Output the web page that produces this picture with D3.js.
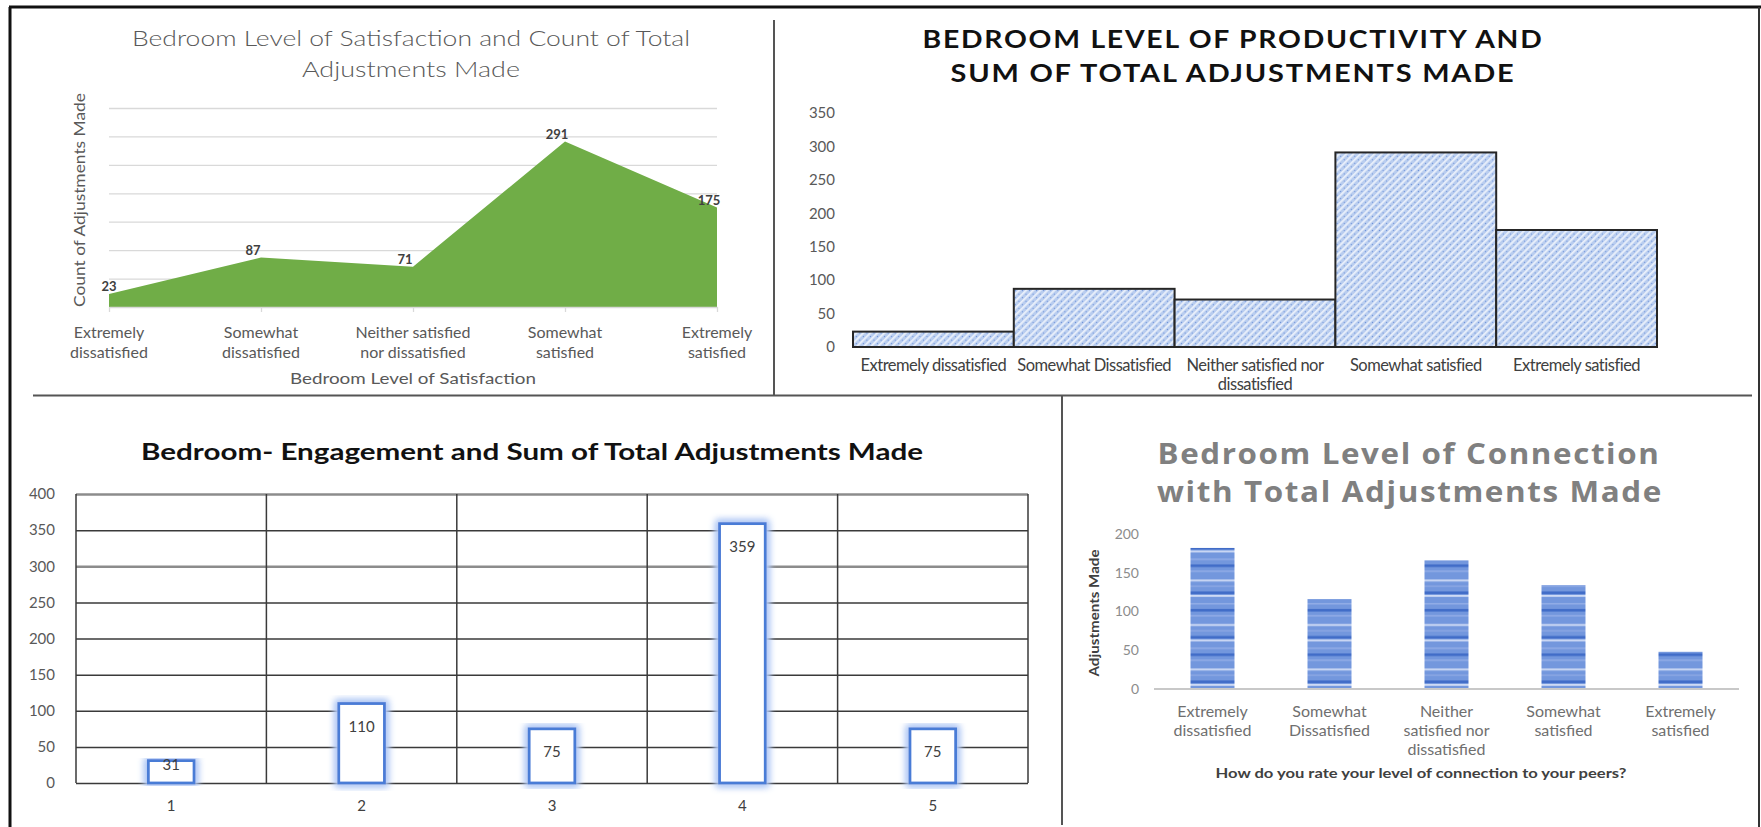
<!DOCTYPE html>
<html>
<head>
<meta charset="utf-8">
<script src="https://cdn.jsdelivr.net/npm/d3@7"></script>
<style>
  body { margin: 0; background: #fff; }
  svg { display: block; font-family: Lato, "Open Sans", sans-serif; }
</style>
</head>
<body>
<div id="chart-area"></div>
<script>
// four survey charts, bedroom adjustments

const W = 1761, H = 827

// ---- data ----
const satisfactionLevels = ["Extremely\ndissatisfied", "Somewhat\ndissatisfied", "Neither satisfied\nnor dissatisfied", "Somewhat\nsatisfied", "Extremely\nsatisfied"]
const satisfactionCounts = [23, 87, 71, 291, 175]
const satisfactionGrid = [50, 100, 150, 200, 250, 300, 350]

const productivityLevels = ["Extremely dissatisfied", "Somewhat Dissatisfied", "Neither satisfied nor\ndissatisfied", "Somewhat satisfied", "Extremely satisfied"]
const productivitySums = [23, 87, 71, 291, 175]
const productivityTicks = [0, 50, 100, 150, 200, 250, 300, 350]

const engagementLevels = ["1", "2", "3", "4", "5"]
const engagementSums = [31, 110, 75, 359, 75]
const engagementTicks = [0, 50, 100, 150, 200, 250, 300, 350, 400]

const connectionLevels = ["Extremely\ndissatisfied", "Somewhat\nDissatisfied", "Neither\nsatisfied nor\ndissatisfied", "Somewhat\nsatisfied", "Extremely\nsatisfied"]
const connectionTotals = [182, 116, 166, 134, 48]
const connectionTicks = [0, 50, 100, 150, 200]

const svg = d3.select("#chart-area").append("svg")
    .attr("width", W)
    .attr("height", H)

const defs = svg.append("defs")

// diagonal hatch for the productivity bars
const hatch = defs.append("pattern")
    .attr("id", "hatch")
    .attr("patternUnits", "userSpaceOnUse")
    .attr("width", 5).attr("height", 5)
    .attr("patternTransform", "rotate(45)")
hatch.append("rect").attr("width", 5).attr("height", 5).attr("fill", "#b9cdef")
hatch.append("rect").attr("x", 0).attr("width", 1.8).attr("height", 5).attr("fill", "#eaf0fb")
hatch.append("rect").attr("x", 3).attr("y", 2).attr("width", 1).attr("height", 1).attr("fill", "#6a8ed6")

// horizontal stripes for the connection bars
const stripes = defs.append("pattern")
    .attr("id", "stripes")
    .attr("patternUnits", "userSpaceOnUse")
    .attr("x", 0).attr("y", 689)
    .attr("width", 10).attr("height", 44.5)
stripes.append("rect").attr("width", 10).attr("height", 44.5).attr("fill", "#7397dd")
;[[3, 1.5, "#92ade7"], [9, 2.5, "#3f6bc7"], [15, 1.5, "#92ade7"], [24, 2, "#cbd8f4"], [30, 1.5, "#8aa6e3"], [36, 2.5, "#3f6bc7"], [39.5, 1.8, "#d3def6"]]
  .forEach(s => stripes.append("rect").attr("y", s[0]).attr("width", 10).attr("height", s[1]).attr("fill", s[2]))

// soft glow around the engagement bars
const glow = defs.append("filter").attr("id", "glow")
    .attr("x", "-40%").attr("y", "-10%").attr("width", "180%").attr("height", "120%")
glow.append("feMorphology").attr("in", "SourceAlpha").attr("operator", "dilate").attr("radius", 2).attr("result", "d")
glow.append("feGaussianBlur").attr("in", "d").attr("stdDeviation", 3.5).attr("result", "b")
glow.append("feFlood").attr("flood-color", "#b3caf5")
glow.append("feComposite").attr("in2", "b").attr("operator", "in").attr("result", "halo")
const gm = glow.append("feMerge")
gm.append("feMergeNode").attr("in", "halo")
gm.append("feMergeNode").attr("in", "halo")
gm.append("feMergeNode").attr("in", "SourceGraphic")

function multiLine(sel, lineHeight) {
  sel.each(function(d) {
    const t = d3.select(this)
    String(d).split("\n").forEach((l, i) =>
      t.append("tspan").attr("x", t.attr("x")).attr("dy", i ? lineHeight : 0).text(l))
  })
}

// ---- frame lines ----
const frame = svg.append("g").attr("fill", "none")
frame.append("line").attr("x1", 9).attr("y1", 7).attr("x2", W).attr("y2", 7).attr("stroke", "#111").attr("stroke-width", 3)
frame.append("line").attr("x1", 10).attr("y1", 7).attr("x2", 10).attr("y2", H).attr("stroke", "#111").attr("stroke-width", 3)
frame.append("line").attr("x1", 1759).attr("y1", 7).attr("x2", 1759).attr("y2", H).attr("stroke", "#333").attr("stroke-width", 2)
frame.append("line").attr("x1", 774).attr("y1", 20).attr("x2", 774).attr("y2", 396).attr("stroke", "#555").attr("stroke-width", 2)
frame.append("line").attr("x1", 33).attr("y1", 395.5).attr("x2", 1752).attr("y2", 395.5).attr("stroke", "#555").attr("stroke-width", 2)
frame.append("line").attr("x1", 1062).attr("y1", 396).attr("x2", 1062).attr("y2", 825).attr("stroke", "#555").attr("stroke-width", 2)

// ---- chart 1: satisfaction area ----
{
  const x = d3.scalePoint().domain(satisfactionLevels).range([109, 717])
  const y = d3.scaleLinear().domain([0, 350]).range([307, 108])
  const g = svg.append("g")

  g.append("g")
      .attr("transform", "translate(109,0)")
      .call(d3.axisLeft(y).tickValues(satisfactionGrid).tickSize(-608).tickFormat(""))
      .call(a => a.select(".domain").remove())
      .selectAll("line").attr("stroke", "#d9d9d9").attr("stroke-width", 1.3)

  const data = satisfactionLevels.map((c, i) => ({c, v: satisfactionCounts[i]}))
  g.append("path").datum(data)
      .attr("fill", "#70ad47")
      .attr("d", d3.area().x(d => x(d.c)).y0(y(0)).y1(d => y(d.v)))

  g.append("g")
      .attr("transform", `translate(0,${y(0)})`)
      .call(d3.axisBottom(x).tickSize(5).tickSizeOuter(0).tickFormat(""))
      .call(a => a.selectAll("line,path").attr("stroke", "#d9d9d9").attr("stroke-width", 1.3))

  g.selectAll(".val").data(data).enter().append("text")
      .attr("x", d => Math.max(x(d.c) - 8, 109))
      .attr("y", d => y(d.v) - 3)
      .attr("text-anchor", "middle")
      .attr("font-size", 13).attr("font-weight", 700).attr("fill", "#404040")
      .text(d => d.v)

  g.selectAll(".xl").data(satisfactionLevels).enter().append("text")
      .attr("x", d => x(d)).attr("y", 338)
      .attr("text-anchor", "middle")
      .attr("font-size", 16).attr("fill", "#595959")
      .call(multiLine, 20)

  g.append("text").attr("x", 411).attr("y", 46).attr("text-anchor", "middle")
      .attr("font-size", 22).attr("font-weight", 300).attr("fill", "#595959")
      .attr("textLength", 558).attr("lengthAdjust", "spacingAndGlyphs")
      .text("Bedroom Level of Satisfaction and Count of Total")
  g.append("text").attr("x", 411).attr("y", 77).attr("text-anchor", "middle")
      .attr("font-size", 22).attr("font-weight", 300).attr("fill", "#595959")
      .attr("textLength", 218).attr("lengthAdjust", "spacingAndGlyphs")
      .text("Adjustments Made")

  g.append("text")
      .attr("transform", "translate(85,200) rotate(-90)")
      .attr("text-anchor", "middle")
      .attr("font-size", 15).attr("fill", "#595959")
      .attr("textLength", 214).attr("lengthAdjust", "spacingAndGlyphs")
      .text("Count of Adjustments Made")

  g.append("text").attr("x", 413).attr("y", 384).attr("text-anchor", "middle")
      .attr("font-size", 15).attr("fill", "#595959")
      .attr("textLength", 246).attr("lengthAdjust", "spacingAndGlyphs")
      .text("Bedroom Level of Satisfaction")
}

// ---- chart 2: productivity bars ----
{
  const x = d3.scaleBand().domain(productivityLevels).range([853, 1657]).padding(0)
  const y = d3.scaleLinear().domain([0, 350]).range([347, 113])
  const g = svg.append("g")

  g.append("g")
      .attr("transform", "translate(838,0)")
      .call(d3.axisLeft(y).tickValues(productivityTicks).tickSize(0).tickPadding(3))
      .call(a => a.select(".domain").remove())
      .selectAll("text").attr("font-size", 15).attr("font-family", "Lato").attr("fill", "#595959")

  g.selectAll("rect").data(productivitySums).enter().append("rect")
      .attr("x", (d, i) => x(productivityLevels[i]))
      .attr("y", d => y(d))
      .attr("width", x.bandwidth())
      .attr("height", d => y(0) - y(d))
      .attr("fill", "url(#hatch)")
      .attr("stroke", "#262626").attr("stroke-width", 2)

  g.selectAll(".xl").data(productivityLevels).enter().append("text")
      .attr("x", d => x(d) + x.bandwidth() / 2).attr("y", 371)
      .attr("text-anchor", "middle")
      .attr("font-size", 16.5).attr("fill", "#404040").attr("letter-spacing", -0.5)
      .call(multiLine, 19)

  g.append("text").attr("x", 1233).attr("y", 48).attr("text-anchor", "middle")
      .attr("font-size", 24).attr("font-weight", 700).attr("fill", "#111").attr("letter-spacing", 1.5)
      .attr("textLength", 621).attr("lengthAdjust", "spacingAndGlyphs")
      .text("BEDROOM LEVEL OF PRODUCTIVITY  AND")
  g.append("text").attr("x", 1233).attr("y", 82).attr("text-anchor", "middle")
      .attr("font-size", 24).attr("font-weight", 700).attr("fill", "#111").attr("letter-spacing", 1.5)
      .attr("textLength", 565).attr("lengthAdjust", "spacingAndGlyphs")
      .text("SUM OF TOTAL ADJUSTMENTS  MADE")
}

// ---- chart 3: engagement bars ----
{
  const x = d3.scaleBand().domain(engagementLevels).range([76, 1028]).padding(0)
  const y = d3.scaleLinear().domain([0, 400]).range([783, 494])
  const g = svg.append("g")

  // horizontal grid
  g.append("g")
      .attr("transform", "translate(76,0)")
      .call(d3.axisLeft(y).tickValues(engagementTicks).tickSize(-952).tickPadding(21))
      .call(a => a.select(".domain").remove())
      .call(a => a.selectAll("line")
          .attr("stroke", d => (d === 300 || d === 400) ? "#8c8c8c" : "#3a3a3a")
          .attr("stroke-width", d => (d === 300 || d === 400) ? 2.5 : 1.5))
      .selectAll("text").attr("font-size", 15).attr("font-family", "Lato").attr("fill", "#595959")

  // x labels and vertical band separators
  g.append("g")
      .attr("transform", `translate(0,${y(0)})`)
      .call(d3.axisBottom(x).tickSize(0).tickPadding(17).tickSizeOuter(0))
      .call(a => a.select(".domain").remove())
      .selectAll("text").attr("font-size", 15).attr("font-family", "Lato").attr("fill", "#404040")
  g.selectAll(".vl").data(engagementLevels.concat(["end"])).enter().append("line")
      .attr("x1", (d, i) => i < engagementLevels.length ? x(d) : x.range()[1])
      .attr("x2", (d, i) => i < engagementLevels.length ? x(d) : x.range()[1])
      .attr("y1", y(400)).attr("y2", y(0))
      .attr("stroke", "#3a3a3a").attr("stroke-width", 1.5)

  const bw = x.bandwidth() * 0.24
  g.selectAll(".bar").data(engagementSums).enter().append("rect")
      .attr("x", (d, i) => x(engagementLevels[i]) + (x.bandwidth() - bw) / 2)
      .attr("y", d => y(d))
      .attr("width", bw)
      .attr("height", d => y(0) - y(d))
      .attr("fill", "#fff")
      .attr("stroke", "#4a7bd6").attr("stroke-width", 2.8)
      .attr("filter", "url(#glow)")

  g.selectAll(".val").data(engagementSums).enter().append("text")
      .attr("x", (d, i) => x(engagementLevels[i]) + x.bandwidth() / 2)
      .attr("y", d => Math.min(y(d) + 23, y(0) - 18) + 5)
      .attr("text-anchor", "middle")
      .attr("font-size", 15).attr("fill", "#404040")
      .text(d => d)

  g.append("text").attr("x", 532).attr("y", 460).attr("text-anchor", "middle")
      .attr("font-size", 23).attr("font-weight", 700).attr("fill", "#111")
      .attr("textLength", 782).attr("lengthAdjust", "spacingAndGlyphs")
      .text("Bedroom- Engagement and Sum of Total Adjustments Made")
}

// ---- chart 4: connection bars ----
{
  const x = d3.scaleBand().domain(connectionLevels).range([1154, 1739]).paddingInner(0.624).paddingOuter(0.312)
  const y = d3.scaleLinear().domain([0, 200]).range([689, 534])
  const g = svg.append("g")

  g.append("g")
      .attr("transform", "translate(1154,0)")
      .call(d3.axisLeft(y).tickValues(connectionTicks).tickSize(0).tickPadding(15))
      .call(a => a.select(".domain").remove())
      .selectAll("text").attr("font-size", 14).attr("font-family", "Lato").attr("fill", "#8c8c8c")

  g.selectAll(".bar").data(connectionTotals).enter().append("rect")
      .attr("x", (d, i) => x(connectionLevels[i]))
      .attr("y", d => y(d))
      .attr("width", x.bandwidth())
      .attr("height", d => y(0) - y(d))
      .attr("fill", "url(#stripes)")

  g.append("line").attr("x1", 1154).attr("x2", 1739).attr("y1", y(0)).attr("y2", y(0))
      .attr("stroke", "#c8c8c8").attr("stroke-width", 2)

  g.selectAll(".xl").data(connectionLevels).enter().append("text")
      .attr("x", d => x(d) + x.bandwidth() / 2).attr("y", 717)
      .attr("text-anchor", "middle")
      .attr("font-size", 16).attr("fill", "#6f6f6f")
      .call(multiLine, 19)

  g.append("text").attr("x", 1409).attr("y", 464).attr("text-anchor", "middle")
      .attr("font-family", "'Open Sans'").attr("font-size", 29).attr("font-weight", 700).attr("fill", "#808080").attr("letter-spacing", 1.5)
      .attr("textLength", 503).attr("lengthAdjust", "spacingAndGlyphs")
      .text("Bedroom Level of Connection")
  g.append("text").attr("x", 1410).attr("y", 502).attr("text-anchor", "middle")
      .attr("font-family", "'Open Sans'").attr("font-size", 29).attr("font-weight", 700).attr("fill", "#808080").attr("letter-spacing", 1.5)
      .attr("textLength", 506).attr("lengthAdjust", "spacingAndGlyphs")
      .text("with Total Adjustments Made")

  g.append("text")
      .attr("transform", "translate(1099,613) rotate(-90)")
      .attr("text-anchor", "middle")
      .attr("font-size", 13).attr("font-weight", 700).attr("fill", "#404040")
      .attr("textLength", 127).attr("lengthAdjust", "spacingAndGlyphs")
      .text("Adjustments Made")

  g.append("text").attr("x", 1421).attr("y", 778).attr("text-anchor", "middle")
      .attr("font-size", 13).attr("font-weight", 700).attr("fill", "#404040")
      .attr("textLength", 411).attr("lengthAdjust", "spacingAndGlyphs")
      .text("How do you rate your level of connection to your peers?")
}
</script>
</body>
</html>
